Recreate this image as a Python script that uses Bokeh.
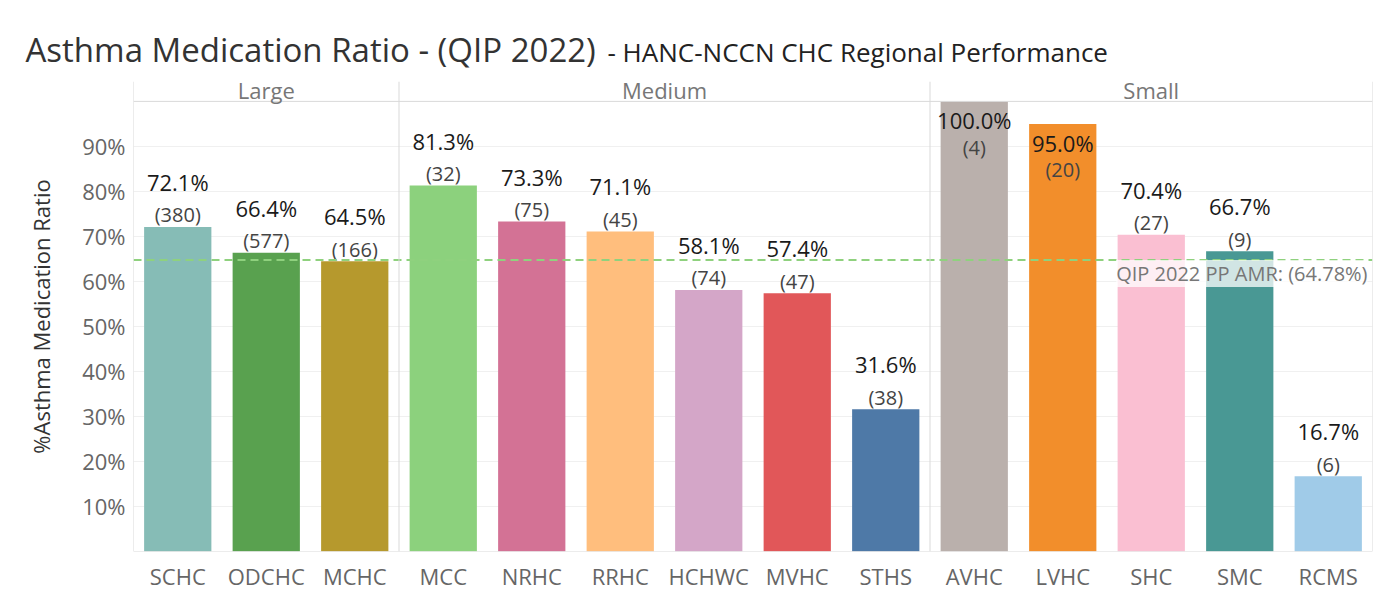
from bokeh.plotting import figure
from bokeh.models import (FactorRange, Range1d, FixedTicker, PrintfTickFormatter,
                          Span, Label, ColumnDataSource)
from bokeh.core.properties import value
from bokeh.embed import file_html
from bokeh.resources import INLINE

# ---------------- data ----------------
clinics = ["SCHC", "ODCHC", "MCHC", "MCC", "NRHC", "RRHC", "HCHWC", "MVHC", "STHS",
           "AVHC", "LVHC", "SHC", "SMC", "RCMS"]
group_names = ["Large", "Medium", "Small"]
group_sizes = [3, 6, 5]
amr_pct = [72.1, 66.4, 64.5, 81.3, 73.3, 71.1, 58.1, 57.4, 31.6,
           100.0, 95.0, 70.4, 66.7, 16.7]
members = [380, 577, 166, 32, 75, 45, 74, 47, 38, 4, 20, 27, 9, 6]
bar_colors = ["#86BCB6", "#59A14F", "#B6992D", "#8CD17D", "#D37295", "#FFBE7D",
              "#D4A6C8", "#E15759", "#4E79A7", "#BAB0AC", "#F28E2B", "#FABFD2",
              "#499894", "#A0CBE8"]
target = 64.78
target_text = "QIP 2022 PP AMR: (64.78%)"
y_ticks = [10, 20, 30, 40, 50, 60, 70, 80, 90]
title_main = "Asthma Medication Ratio - (QIP 2022)"
title_sub = "- HANC-NCCN CHC Regional Performance"
y_title = "%Asthma Medication Ratio"

FONT = "Open Sans"
SEP = "#D9D9D9"

# layout constants (pixels)
W, H = 1390, 593
FL, FR, FT, FB = 133, 1372, 80, 552          # frame edges on the page
Y_TOP = 104.42                                # % value at the frame top
BAND = (FR - FL) / len(clinics)
PX_PER_PCT = (FB - FT) / Y_TOP


def px_to_x(px):
    return (px - FL) / BAND


def px_to_y(py):
    return (FB - py) / PX_PER_PCT


# label placement: inside the bar when there is no room above it
inside = [v > 91 for v in amr_pct]
val_off = [19 if ins else -45 for ins in inside]
cnt_off = [46 if ins else -12 for ins in inside]

src = ColumnDataSource(dict(
    clinic=clinics, amr=amr_pct, color=bar_colors,
    vtxt=[f"{v:.1f}%" for v in amr_pct],
    ctxt=[f"({n})" for n in members],
    voff=val_off, coff=cnt_off,
))

p = figure(width=W, height=H, output_backend="svg", toolbar_location=None,
           x_range=FactorRange(factors=clinics, range_padding=0),
           y_range=Range1d(0, Y_TOP),
           min_border_left=FL, min_border_right=W - FR, min_border_top=FT,
           min_border_bottom=H - FB)
p.title_location = None

p.vbar(x="clinic", top="amr", width=0.76, color="color", source=src, line_color=None)

p.text(x="clinic", y="amr", text="vtxt", y_offset="voff", source=src,
       text_align="center", text_baseline="middle",
       text_font=value(FONT), text_font_size="22px", text_color="#1a1a1a")
p.text(x="clinic", y="amr", text="ctxt", y_offset="coff", source=src,
       text_align="center", text_baseline="middle",
       text_font=value(FONT), text_font_size="20px", text_color="#444444")

# reference line
p.add_layout(Span(location=target, dimension="width", line_color="#8FD17E",
                  line_width=2, line_dash="8 5"))
p.add_layout(Label(x=len(clinics), y=target, x_offset=-5, y_offset=0,
                   text=target_text, text_align="right", text_baseline="top",
                   text_font=FONT, text_font_size="20px", text_color="#777777",
                   background_fill_color="white", background_fill_alpha=0.75))

# axes
p.xaxis.major_tick_line_color = None
p.xaxis.minor_tick_line_color = None
p.xaxis.major_tick_out = 0
p.xaxis.major_tick_in = 0
p.xaxis.axis_line_color = None
p.xaxis.major_label_standoff = 9
p.xaxis.major_label_text_font = FONT
p.xaxis.major_label_text_font_size = "22px"
p.xaxis.major_label_text_color = "#666666"

p.yaxis.ticker = FixedTicker(ticks=y_ticks)
p.yaxis.formatter = PrintfTickFormatter(format="%d%%")
p.yaxis.major_tick_line_color = None
p.yaxis.minor_tick_line_color = None
p.yaxis.major_tick_out = 0
p.yaxis.major_tick_in = 0
p.yaxis.axis_line_color = None
p.yaxis.major_label_standoff = 8
p.yaxis.major_label_text_font = FONT
p.yaxis.major_label_text_font_size = "22px"
p.yaxis.major_label_text_color = "#666666"
p.yaxis.axis_label = y_title
p.yaxis.axis_label_text_font = FONT
p.yaxis.axis_label_text_font_size = "22px"
p.yaxis.axis_label_text_font_style = "normal"
p.yaxis.axis_label_text_color = "#333333"
p.yaxis.axis_label_standoff = 23

p.xgrid.grid_line_color = None
p.ygrid.grid_line_color = "#F0F0F0"
p.ygrid.ticker = FixedTicker(ticks=y_ticks)
p.outline_line_color = None

# panel frame lines, separators and headers
bounds = [0]
for g in group_sizes:
    bounds.append(bounds[-1] + g)
for b in bounds:
    p.add_layout(Span(location=b, dimension="height", line_color=SEP, line_width=1))
for yy in (0, 100):
    p.add_layout(Span(location=yy, dimension="width", line_color=SEP, line_width=1))
for name, a, b in zip(group_names, bounds[:-1], bounds[1:]):
    p.add_layout(Label(x=(a + b) / 2, y=100, y_offset=11, text=name,
                       text_align="center", text_baseline="middle",
                       text_font=FONT, text_font_size="22px", text_color="#777777"))

# two-part title on one line (placed in the top panel so it is not clipped)
p.add_layout(Label(x=px_to_x(25), y=px_to_y(48), text=title_main,
                   text_font=FONT, text_font_size="33px", text_color="#333333",
                   text_baseline="alphabetic"), "above")
p.add_layout(Label(x=px_to_x(607), y=px_to_y(50), text=title_sub,
                   text_font=FONT, text_font_size="26px", text_color="#222222",
                   text_baseline="alphabetic"), "above")

open("out.html", "w").write(file_html(p, INLINE))
